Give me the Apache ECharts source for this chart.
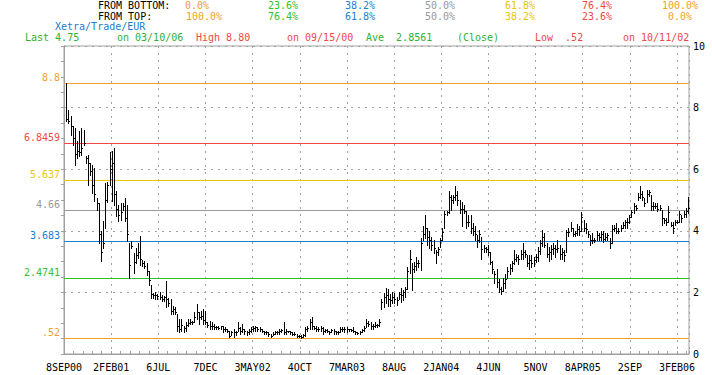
<!DOCTYPE html>
<html><head><meta charset="utf-8">
<script src="https://cdn.jsdelivr.net/npm/echarts@6/dist/echarts.min.js"></script>
<style>html,body{margin:0;padding:0;background:#fff}#c{width:712px;height:375px}</style>
</head><body><div id="c"></div>
<script>
// ---- data ----
const xTickLabels = ['8SEP00','2FEB01','6JUL','7DEC','3MAY02','4OCT','7MAR03','8AUG','2JAN04','4JUN','5NOV','8APR05','2SEP','3FEB06'];
const yTickValues = [0, 2, 4, 6, 8, 10];
const fibValues = [0.52, 2.4741, 3.683, 4.66, 5.637, 6.8459, 8.8];
const fibLabels = ['.52', '2.4741', '3.683', '4.66', '5.637', '6.8459', '8.8'];
const fromBottom = ['0.0%','23.6%','38.2%','50.0%','61.8%','76.4%','100.0%'];
const fromTop = ['100.0%','76.4%','61.8%','50.0%','38.2%','23.6%','0.0%'];
const infoTexts = ['Last 4.75','on 03/10/06','High 8.80','on 09/15/00','Ave  2.8561','(Close)','Low  .52','on 10/11/02'];
const symbolText = 'Xetra/Trade/EUR';

// weekly bars, week 1 = 15SEP00 ... week 287 = 10MAR06
const highs = [
8.80,7.93,7.72,7.39,7.34,6.90,7.23,7.34,7.28,6.42,
6.47,6.20,6.15,6.04,5.06,4.90,3.98,4.31,5.55,5.60,
6.57,6.58,6.69,5.28,4.85,4.90,4.90,5.06,4.85,3.60,
3.66,3.28,3.44,3.60,3.82,3.06,3.01,2.95,2.68,2.25,
1.98,2.00,1.95,2.00,1.90,1.88,2.36,1.83,1.77,1.56,
1.51,1.30,1.14,1.14,0.92,1.03,1.14,1.14,1.08,1.35,
1.61,1.35,1.40,1.46,1.40,1.03,1.08,1.03,0.98,0.92,
0.92,0.92,0.92,0.87,0.82,0.76,0.76,0.82,0.76,1.03,
0.87,0.98,0.82,0.76,0.82,0.87,0.92,0.92,0.87,0.87,
0.82,0.76,0.76,0.71,0.66,0.71,0.76,0.76,0.82,0.82,
1.03,0.82,0.76,0.76,0.71,0.71,0.66,0.61,0.61,0.66,
0.87,0.92,1.14,1.19,0.92,0.92,0.87,0.92,0.87,0.82,
0.82,0.76,0.82,0.82,0.76,0.76,0.87,0.87,0.87,0.87,
0.82,0.82,0.87,0.76,0.71,0.76,0.82,0.92,1.14,1.08,
1.03,0.98,1.03,0.98,1.14,1.80,1.97,2.13,2.10,1.95,
2.02,1.97,1.86,2.02,2.13,2.08,2.19,2.84,3.38,2.94,
3.00,3.16,3.05,3.76,4.14,4.52,4.08,3.98,3.80,3.70,
3.38,3.49,3.76,4.08,4.63,4.63,5.28,5.17,5.17,5.45,
5.28,5.01,4.95,4.84,4.63,4.52,4.52,4.25,4.14,3.87,
4.04,3.81,3.54,3.48,3.54,3.30,3.03,2.70,2.75,2.42,
2.19,2.47,2.59,2.81,2.92,3.03,3.37,3.26,3.20,3.37,
3.59,3.37,3.20,3.20,3.20,3.15,3.26,3.48,3.71,4.04,
3.93,3.59,3.48,3.54,3.59,3.54,3.71,3.54,3.43,3.37,
4.04,4.10,4.27,4.10,3.98,4.21,4.15,4.60,4.36,4.25,
3.98,3.87,3.92,3.76,3.98,3.92,3.98,3.98,3.92,3.92,
3.76,4.19,4.19,4.25,4.08,4.19,4.30,4.36,4.41,4.52,
4.68,4.90,4.84,5.22,5.44,5.28,5.06,5.33,5.33,5.17,
4.95,4.90,4.90,4.84,4.69,4.41,4.41,4.79,4.30,4.30,
4.36,4.36,4.63,4.52,4.63,4.74,5.10];
const lows = [
7.55,7.50,7.12,6.80,6.15,6.36,6.42,6.47,6.80,6.20,
5.50,5.82,5.23,4.96,4.69,3.60,3.01,3.44,4.09,4.95,
5.49,4.96,4.85,4.47,4.31,4.36,4.69,4.31,3.66,2.47,
3.44,2.63,2.95,3.12,2.90,2.85,2.79,2.58,2.25,1.82,
1.82,1.80,1.80,1.78,1.72,1.72,1.51,1.56,1.30,1.30,
1.30,0.76,0.71,0.76,0.71,0.76,0.92,0.98,0.98,1.03,
1.14,0.98,1.14,0.98,0.98,0.87,0.82,0.82,0.82,0.82,
0.82,0.82,0.71,0.76,0.71,0.55,0.61,0.55,0.61,0.76,
0.66,0.71,0.66,0.61,0.66,0.71,0.76,0.76,0.76,0.76,
0.71,0.66,0.66,0.58,0.55,0.61,0.66,0.66,0.66,0.71,
0.66,0.66,0.71,0.66,0.61,0.61,0.55,0.55,0.52,0.55,
0.60,0.76,0.82,0.82,0.80,0.76,0.76,0.76,0.66,0.71,
0.71,0.66,0.71,0.66,0.66,0.66,0.71,0.76,0.71,0.71,
0.76,0.76,0.71,0.66,0.66,0.66,0.71,0.76,0.87,0.92,
0.82,0.82,0.87,0.87,0.92,1.45,1.53,1.64,1.55,1.55,
1.64,1.65,1.59,1.80,1.70,1.75,1.86,2.10,2.62,2.08,
2.67,2.73,2.84,2.73,3.70,3.76,3.54,3.43,3.38,3.27,
2.95,3.22,3.49,3.70,4.08,4.52,4.57,4.68,4.90,5.01,
4.84,4.57,4.14,4.57,4.08,4.14,3.92,3.87,3.70,3.49,
3.65,3.10,3.31,3.31,3.20,2.92,2.64,2.30,2.19,2.00,
1.95,2.03,2.14,2.47,2.59,2.70,2.92,3.03,2.92,3.10,
3.09,3.15,2.85,2.75,2.81,2.87,2.98,3.03,3.26,3.50,
3.48,3.15,3.03,3.09,3.26,3.15,3.31,3.09,3.09,3.03,
3.31,3.82,3.98,3.82,3.82,3.87,3.87,3.98,3.98,3.92,
3.81,3.54,3.60,3.65,3.70,3.70,3.70,3.65,3.70,3.70,
3.43,3.60,3.98,3.92,3.92,3.98,4.08,4.08,4.08,4.25,
4.46,4.57,4.68,5.01,5.06,5.01,4.79,4.95,5.12,4.68,
4.68,4.74,4.63,4.68,4.20,4.25,4.19,4.30,4.14,3.92,
4.19,4.25,4.30,4.30,4.46,4.46,4.57];
const closes = [
7.62,7.55,7.40,7.00,6.50,6.60,6.55,6.70,6.85,6.35,
6.20,5.95,5.50,5.20,4.90,3.90,3.30,3.60,5.00,5.50,
6.00,6.20,5.20,4.70,4.50,4.60,4.80,4.40,3.90,2.90,
3.50,3.00,3.20,3.30,3.10,2.95,2.85,2.70,2.40,1.95,
1.90,1.90,1.88,1.85,1.80,1.85,1.80,1.65,1.40,1.45,
1.35,0.90,0.80,0.95,0.85,0.95,1.00,1.05,1.05,1.20,
1.35,1.20,1.25,1.10,1.05,0.95,0.90,0.90,0.88,0.88,
0.85,0.90,0.80,0.80,0.75,0.60,0.70,0.70,0.70,0.85,
0.75,0.80,0.75,0.70,0.75,0.80,0.85,0.88,0.80,0.82,
0.75,0.72,0.70,0.65,0.60,0.66,0.70,0.72,0.75,0.78,
0.72,0.75,0.74,0.70,0.66,0.64,0.60,0.58,0.56,0.62,
0.80,0.85,1.05,0.90,0.85,0.82,0.80,0.85,0.75,0.78,
0.75,0.70,0.78,0.75,0.70,0.72,0.82,0.80,0.80,0.82,
0.80,0.78,0.75,0.70,0.68,0.72,0.78,0.85,1.00,0.98,
0.90,0.92,0.95,0.95,1.05,1.70,1.85,1.90,1.80,1.75,
1.85,1.80,1.75,1.95,1.90,2.00,2.10,2.70,3.10,2.75,
2.85,2.95,2.95,3.60,3.90,4.10,3.80,3.70,3.55,3.45,
3.30,3.40,3.70,3.95,4.55,4.60,5.10,5.00,5.10,5.15,
5.00,4.70,4.70,4.65,4.30,4.30,4.10,4.00,3.90,3.70,
3.90,3.40,3.45,3.40,3.30,3.00,2.75,2.60,2.35,2.10,
2.05,2.30,2.45,2.70,2.80,2.95,3.10,3.15,3.10,3.25,
3.30,3.25,2.95,3.05,2.95,3.05,3.15,3.35,3.60,3.80,
3.55,3.25,3.30,3.40,3.45,3.40,3.45,3.25,3.30,3.20,
3.95,3.95,4.10,3.90,3.92,4.05,4.00,4.45,4.10,4.05,
3.90,3.70,3.70,3.70,3.85,3.80,3.90,3.75,3.80,3.85,
3.60,4.05,4.10,4.00,4.00,4.10,4.20,4.30,4.30,4.45,
4.60,4.80,4.75,5.10,5.20,5.10,4.90,5.20,5.25,4.80,
4.80,4.80,4.70,4.75,4.40,4.35,4.30,4.60,4.20,4.10,
4.30,4.30,4.55,4.40,4.55,4.65,4.75];

// ---- styling ----
const FAMILY = '"DejaVu Sans Mono", monospace';
const FONT = '10px "DejaVu Sans Mono", monospace';
const levelColors = ['#f0a030','#30c030','#1a80d0','#999999','#e8c800','#f04848','#f0a030'];
const colX1 = [185, 268, 345, 425, 505, 582, 662];
const colX2 = [186, 268, 345, 425, 505, 582, 668];
const infoX = [25, 117, 196, 287, 366, 457, 535, 623];
const infoColors = ['#30b030','#30b030','#f04848','#f04848','#30b030','#30b030','#f04848','#f04848'];

const X_MIN = 0, X_MAX = 287.5;
const nLabels = xTickLabels.length;
const lastLabelWeek = 282;
const step = lastLabelWeek / (nLabels - 1);

const barData = highs.map((h, i) => [i + 1, h, lows[i], closes[i]]);

const graphics = [];
graphics.push({type:'text', x:98, y:5, style:{text:'FROM BOTTOM:', fill:'#000', font:FONT, verticalAlign:'middle'}});
graphics.push({type:'text', x:98, y:16, style:{text:'FROM TOP:', fill:'#000', font:FONT, verticalAlign:'middle'}});
fromBottom.forEach((t, i) => graphics.push({type:'text', x:colX1[i], y:5, style:{text:t, fill:levelColors[i], font:FONT, verticalAlign:'middle'}}));
fromTop.forEach((t, i) => graphics.push({type:'text', x:colX2[i], y:16, style:{text:t, fill:levelColors[i], font:FONT, verticalAlign:'middle'}}));
graphics.push({type:'text', x:55, y:26, style:{text:symbolText, fill:'#1a80d0', font:FONT, verticalAlign:'middle'}});
infoTexts.forEach((t, i) => graphics.push({type:'text', x:infoX[i], y:37, style:{text:t, fill:infoColors[i], font:FONT, verticalAlign:'middle'}}));

// Fibonacci level lines: custom series, one item per level, drawn as 1px filled rects
const fibSeries = {
  type:'custom', name:'fib', z:2, silent:true,
  data: fibValues.map((v, i) => [v, i]),
  encode:{y:0},
  renderItem: (params, api) => {
    const v = api.value(0);
    const i = api.value(1);
    const a = api.coord([X_MIN, v]);
    const b = api.coord([X_MAX, v]);
    const y = Math.round(a[1]);
    const col = levelColors[i];
    return {type:'group', children:[
      {type:'rect', shape:{x:Math.round(a[0]), y:y, width:Math.round(b[0]-a[0]), height:1}, style:{fill:col, stroke:null}},
      {type:'text', x:a[0] - 4, y:y - 6, style:{text:fibLabels[i], fill:col, font:FONT, align:'right', verticalAlign:'middle'}}
    ]};
  }
};

const chart = echarts.init(document.getElementById('c'), null, {renderer:'svg'});
chart.setOption({
  animation: false,
  backgroundColor: '#fff',
  grid: {left:64, right:23, top:46, bottom:21, show:true, borderColor:'#a0a0a0', borderWidth:1, backgroundColor:'transparent'},
  xAxis: {
    type:'value', min:X_MIN, max:X_MAX, interval:step,
    axisLine:{show:true, lineStyle:{color:'#a0a0a0'}},
    axisTick:{show:true, inside:true, length:3, lineStyle:{color:'#a0a0a0'}},
    minorTick:{show:true, splitNumber:5, length:3, lineStyle:{color:'#a0a0a0'}},
    splitLine:{show:true, lineStyle:{color:'#a0a0a0', type:[2,5]}},
    axisLabel:{color:'#000', fontFamily:FAMILY, fontSize:10, margin:8,
      showMinLabel:true, showMaxLabel:false,
      formatter: v => { const k = Math.round(v / step); return (Math.abs(v - k*step) < 0.01 && k < nLabels) ? xTickLabels[k] : ''; }}
  },
  yAxis: {
    type:'value', position:'right', min:yTickValues[0], max:yTickValues[yTickValues.length-1], interval:2,
    axisLine:{show:true, lineStyle:{color:'#a0a0a0'}},
    axisTick:{show:true, inside:true, length:3, lineStyle:{color:'#a0a0a0'}},
    minorTick:{show:true, splitNumber:4, length:3, lineStyle:{color:'#a0a0a0'}},
    splitLine:{show:true, lineStyle:{color:'#a0a0a0', type:[2,5]}},
    axisLabel:{color:'#000', fontFamily:FAMILY, fontSize:10, margin:4}
  },
  graphic: graphics,
  series: [fibSeries, {
    type:'custom',
    name:'bars',
    data: barData,
    encode:{x:0, y:[1,2,3]},
    z: 5,
    renderItem: (params, api) => {
      const w = api.value(0);
      const hi = api.coord([w, api.value(1)]);
      const lo = api.coord([w, api.value(2)]);
      const cl = api.coord([w, api.value(3)]);
      const px = Math.round(hi[0]);
      const top = Math.round(hi[1]);
      const bot = Math.round(lo[1]);
      const cy = Math.round(cl[1]);
      return {type:'group', children:[
        {type:'rect', shape:{x:px, y:top, width:1, height:Math.max(1, bot - top + 1)}, style:{fill:'#000', stroke:null}},
        {type:'rect', shape:{x:px + 1, y:cy, width:1, height:1}, style:{fill:'#000', stroke:null}}
      ]};
    }
  }]
});
</script></body></html>
